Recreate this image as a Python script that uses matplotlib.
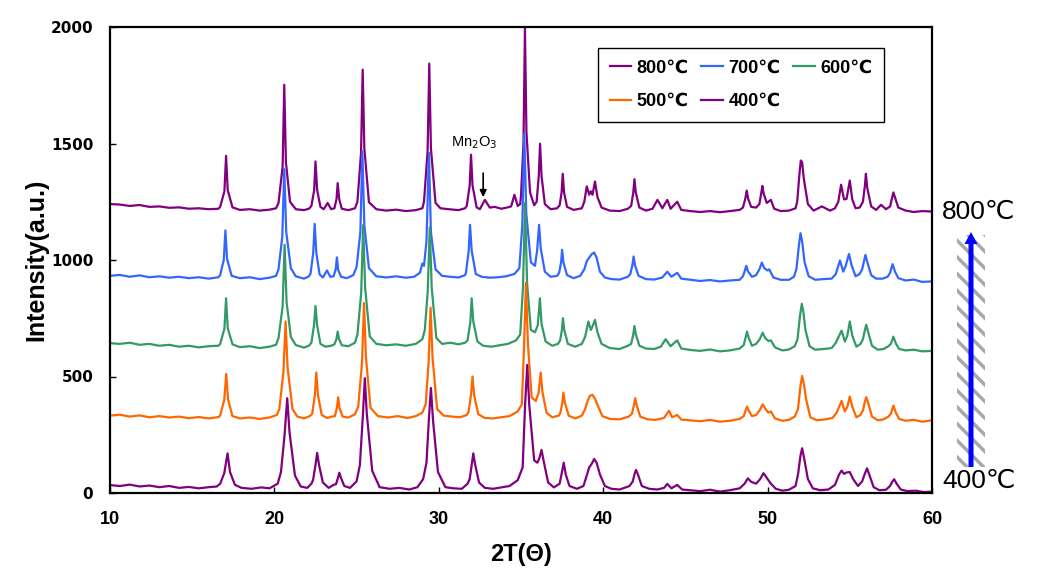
import numpy as np
import matplotlib.pyplot as plt
from matplotlib.patches import Rectangle, FancyArrow

plt.rcParams['font.family'] = ['Liberation Sans', 'DejaVu Sans']

# XRD patterns: (2theta, intensity) pairs
p800 = [(10.0, 1240), (10.6, 1238), (11.2, 1232), (11.8, 1236), (12.4, 1228), (13.0, 1230), (13.6, 1224),
        (14.2, 1226), (14.8, 1220), (15.4, 1222), (16.0, 1218), (16.6, 1220),
        (16.7, 1228), (16.96, 1295), (17.06, 1447), (17.16, 1300), (17.45, 1226),
        (17.9, 1215), (18.5, 1218), (19.1, 1212), (19.7, 1216), (20.1, 1222),
        (20.25, 1245), (20.5, 1400), (20.6, 1752), (20.7, 1420), (20.95, 1250),
        (21.3, 1218), (21.8, 1214), (22.1, 1220),
        (22.25, 1232), (22.42, 1300), (22.5, 1423), (22.6, 1300), (22.8, 1228),
        (23.0, 1218), (23.24, 1245), (23.45, 1218),
        (23.65, 1222), (23.78, 1262), (23.85, 1330), (23.94, 1262), (24.1, 1220),
        (24.5, 1214), (24.9, 1222),
        (25.05, 1250), (25.27, 1460), (25.37, 1817), (25.47, 1480), (25.75, 1248),
        (26.2, 1218), (26.8, 1212), (27.4, 1216), (28.0, 1210), (28.6, 1214), (29.0, 1222),
        (29.1, 1250), (29.32, 1470), (29.42, 1843), (29.52, 1480), (29.8, 1245),
        (30.1, 1222), (30.6, 1218), (31.2, 1214), (31.6, 1222),
        (31.7, 1232), (31.88, 1320), (31.96, 1452), (32.05, 1320), (32.3, 1226),
        (32.5, 1218), (32.8, 1258), (33.1, 1225), (33.4, 1228), (33.8, 1220), (34.2, 1226),
        (34.4, 1230), (34.6, 1280), (34.8, 1232), (34.95, 1240),
        (35.0, 1275), (35.15, 1500), (35.24, 1995), (35.33, 1550), (35.55, 1290), (35.8, 1235),
        (35.95, 1250), (36.08, 1360), (36.16, 1499), (36.25, 1360), (36.45, 1240),
        (36.8, 1218), (37.2, 1222),
        (37.35, 1235), (37.47, 1290), (37.54, 1370), (37.62, 1290), (37.8, 1228),
        (38.2, 1215), (38.7, 1222),
        (38.85, 1250), (39.0, 1316), (39.15, 1280), (39.25, 1295), (39.35, 1280), (39.5, 1337),
        (39.65, 1270), (39.9, 1225),
        (40.4, 1212), (41.0, 1210), (41.5, 1220),
        (41.7, 1232), (41.83, 1290), (41.9, 1347), (41.98, 1290), (42.2, 1225),
        (42.6, 1212), (43.0, 1220), (43.3, 1258), (43.6, 1222), (43.9, 1258), (44.1, 1220),
        (44.5, 1250), (44.75, 1215),
        (45.3, 1210), (45.9, 1206), (46.5, 1210), (47.1, 1205), (47.7, 1210), (48.3, 1215),
        (48.5, 1225), (48.65, 1265), (48.73, 1298), (48.82, 1262), (49.0, 1228), (49.3, 1225),
        (49.5, 1240), (49.62, 1290), (49.68, 1318), (49.76, 1285), (49.95, 1245), (50.2, 1258),
        (50.4, 1220), (50.8, 1210), (51.3, 1212), (51.7, 1222),
        (51.8, 1250), (51.95, 1380), (52.02, 1427), (52.1, 1420), (52.2, 1350), (52.45, 1240),
        (52.8, 1212), (53.3, 1230), (53.8, 1212), (54.1, 1222),
        (54.3, 1250), (54.47, 1323), (54.65, 1260), (54.8, 1262), (55.0, 1341), (55.15, 1260),
        (55.35, 1222), (55.6, 1225),
        (55.8, 1250), (55.92, 1320), (55.98, 1370), (56.06, 1310), (56.3, 1230),
        (56.6, 1215), (56.9, 1237), (57.2, 1218),
        (57.45, 1230), (57.58, 1270), (57.65, 1290), (57.75, 1268), (57.95, 1225),
        (58.4, 1212), (58.9, 1206), (59.4, 1210), (60.0, 1208)]

p700 = [(10.0, 932), (10.6, 936), (11.2, 928), (11.8, 934), (12.4, 926), (13.0, 930), (13.6, 924),
        (14.2, 928), (14.8, 922), (15.4, 926), (16.0, 920), (16.6, 926),
        (16.7, 935), (16.92, 1000), (17.02, 1127), (17.12, 1005), (17.4, 932),
        (17.9, 922), (18.5, 926), (19.1, 918), (19.7, 924), (20.1, 932),
        (20.25, 960), (20.48, 1100), (20.6, 1390), (20.72, 1120), (21.0, 965),
        (21.3, 930), (21.8, 920), (22.1, 930),
        (22.2, 942), (22.36, 1030), (22.45, 1155), (22.55, 1030), (22.75, 938),
        (22.95, 925), (23.2, 955), (23.4, 928),
        (23.6, 930), (23.73, 960), (23.8, 1011), (23.88, 958), (24.05, 928),
        (24.4, 922), (24.8, 935),
        (25.0, 970), (25.23, 1120), (25.35, 1466), (25.47, 1150), (25.75, 965),
        (26.2, 930), (26.8, 925), (27.4, 930), (28.0, 924), (28.5, 928), (28.85, 945),
        (29.0, 985), (29.1, 975),
        (29.25, 1080), (29.4, 1460), (29.52, 1120), (29.8, 960),
        (30.2, 932), (30.7, 928), (31.2, 925), (31.6, 935),
        (31.65, 945), (31.82, 1040), (31.9, 1151), (32.0, 1040), (32.25, 940),
        (32.6, 928), (33.1, 924), (33.6, 926), (34.1, 930), (34.6, 940), (34.9, 965),
        (35.08, 1150), (35.2, 1545), (35.32, 1200), (35.6, 990), (35.85, 975),
        (35.98, 1040), (36.1, 1151), (36.2, 1050), (36.45, 950),
        (36.8, 928), (37.2, 932),
        (37.32, 945), (37.44, 990), (37.5, 1044), (37.58, 990), (37.8, 935),
        (38.2, 922), (38.6, 932),
        (38.85, 960), (39.0, 995), (39.15, 1010), (39.3, 1025), (39.45, 1032), (39.6, 1010),
        (39.8, 950), (40.1, 925),
        (40.5, 918), (41.0, 916), (41.5, 928),
        (41.65, 940), (41.78, 980), (41.85, 1015), (41.93, 978), (42.15, 932),
        (42.6, 918), (43.1, 916), (43.6, 925), (43.9, 950), (44.15, 928), (44.5, 945), (44.75, 920),
        (45.3, 915), (45.9, 910), (46.5, 914), (47.1, 908), (47.7, 912), (48.3, 915),
        (48.5, 930), (48.62, 955), (48.7, 975), (48.8, 952), (49.05, 928), (49.3, 935),
        (49.5, 960), (49.65, 989), (49.8, 965), (50.0, 955), (50.1, 960), (50.35, 925),
        (50.8, 915), (51.3, 915), (51.6, 928),
        (51.75, 960), (51.9, 1060), (52.0, 1115), (52.1, 1080), (52.25, 990), (52.5, 930),
        (52.9, 915), (53.4, 918), (53.9, 920), (54.15, 940),
        (54.4, 998), (54.6, 950), (54.75, 975), (54.95, 1026), (55.1, 980), (55.35, 930),
        (55.6, 940),
        (55.75, 960), (55.88, 1000), (55.95, 1022), (56.05, 995), (56.3, 935),
        (56.6, 920), (57.0, 920), (57.3, 928),
        (57.45, 945), (57.6, 982), (57.75, 950), (57.95, 922),
        (58.4, 912), (58.9, 916), (59.4, 906), (60.0, 908)]

p600 = [(10.0, 643), (10.6, 640), (11.2, 645), (11.8, 636), (12.4, 640), (13.0, 632), (13.6, 636),
        (14.2, 628), (14.8, 632), (15.4, 625), (16.0, 630), (16.6, 632),
        (16.7, 640), (16.96, 705), (17.06, 836), (17.16, 708), (17.45, 638),
        (17.9, 626), (18.5, 630), (19.1, 622), (19.7, 628), (20.1, 636),
        (20.25, 665), (20.5, 800), (20.62, 1065), (20.74, 820), (21.0, 670),
        (21.3, 635), (21.8, 624), (22.1, 632),
        (22.25, 645), (22.41, 720), (22.5, 803), (22.6, 720), (22.8, 640),
        (23.1, 628), (23.45, 632),
        (23.65, 638), (23.77, 660), (23.85, 693), (23.93, 660), (24.1, 634),
        (24.5, 630), (24.9, 645),
        (25.05, 680), (25.28, 860), (25.4, 1150), (25.52, 880), (25.8, 672),
        (26.2, 640), (26.8, 634), (27.4, 638), (28.0, 632), (28.6, 640), (29.0, 660),
        (29.15, 700), (29.33, 870), (29.45, 1140), (29.57, 880), (29.85, 665),
        (30.2, 640), (30.7, 645), (31.2, 638), (31.6, 645),
        (31.75, 655), (31.92, 735), (32.0, 836), (32.1, 735), (32.35, 650),
        (32.7, 632), (33.2, 628), (33.7, 634), (34.2, 640), (34.7, 655), (34.95, 680),
        (35.12, 880), (35.25, 1245), (35.37, 900), (35.6, 700), (35.85, 690),
        (36.02, 720), (36.15, 836), (36.25, 725), (36.5, 650),
        (36.9, 632), (37.25, 640),
        (37.38, 655), (37.49, 700), (37.55, 750), (37.63, 700), (37.85, 640),
        (38.3, 628), (38.7, 640),
        (38.9, 670), (39.1, 736), (39.25, 700), (39.35, 715), (39.5, 743), (39.65, 690), (39.9, 640),
        (40.4, 622), (41.0, 618), (41.5, 632),
        (41.7, 640), (41.83, 680), (41.9, 717), (41.98, 682), (42.2, 632),
        (42.6, 620), (43.1, 618), (43.5, 628), (43.8, 660), (44.1, 630), (44.5, 655), (44.75, 620),
        (45.3, 614), (45.9, 610), (46.5, 616), (47.1, 608), (47.7, 612), (48.3, 620),
        (48.55, 635), (48.67, 670), (48.75, 693), (48.84, 668), (49.05, 632), (49.3, 640),
        (49.52, 660), (49.7, 688), (49.85, 665), (50.05, 652), (50.2, 655), (50.45, 625),
        (50.9, 612), (51.3, 616), (51.65, 630),
        (51.82, 660), (51.97, 760), (52.08, 812), (52.18, 775), (52.3, 700), (52.55, 630),
        (52.9, 615), (53.4, 618), (53.9, 622), (54.15, 645),
        (54.5, 697), (54.7, 650), (54.85, 675), (55.0, 736), (55.15, 675), (55.4, 628),
        (55.65, 640),
        (55.8, 660), (55.92, 700), (56.0, 722), (56.1, 695), (56.35, 632),
        (56.7, 615), (57.05, 618), (57.35, 630),
        (57.5, 640), (57.65, 671), (57.8, 642), (58.0, 618),
        (58.4, 612), (58.9, 615), (59.4, 608), (60.0, 610)]

p500 = [(10.0, 332), (10.6, 336), (11.2, 328), (11.8, 333), (12.4, 325), (13.0, 330), (13.6, 324),
        (14.2, 328), (14.8, 321), (15.4, 326), (16.0, 320), (16.6, 326),
        (16.7, 332), (16.95, 400), (17.07, 511), (17.18, 402), (17.45, 330),
        (17.9, 320), (18.5, 324), (19.1, 318), (19.7, 324), (20.15, 335),
        (20.3, 360), (20.55, 520), (20.68, 736), (20.8, 540), (21.1, 360),
        (21.4, 328), (21.8, 320), (22.15, 330),
        (22.3, 340), (22.46, 420), (22.55, 517), (22.65, 420), (22.88, 335),
        (23.2, 322), (23.5, 328),
        (23.68, 330), (23.8, 365), (23.88, 411), (23.96, 365), (24.15, 328),
        (24.5, 324), (24.9, 338),
        (25.1, 370), (25.33, 560), (25.45, 815), (25.57, 580), (25.85, 365),
        (26.3, 330), (26.9, 324), (27.5, 330), (28.1, 322), (28.6, 330), (29.0, 345),
        (29.2, 380), (29.38, 560), (29.5, 795), (29.62, 580), (29.9, 360),
        (30.3, 332), (30.8, 328), (31.3, 325), (31.7, 335),
        (31.8, 345), (31.96, 420), (32.05, 500), (32.15, 420), (32.4, 338),
        (32.8, 322), (33.3, 320), (33.8, 325), (34.3, 330), (34.8, 350), (35.05, 380),
        (35.18, 620), (35.3, 902), (35.42, 640), (35.65, 410), (35.9, 395),
        (36.07, 430), (36.2, 517), (36.3, 435), (36.55, 345),
        (36.9, 325), (37.3, 332),
        (37.4, 345), (37.52, 390), (37.58, 431), (37.66, 390), (37.9, 332),
        (38.3, 320), (38.7, 332),
        (38.9, 360), (39.05, 395), (39.2, 418), (39.35, 421), (39.5, 405), (39.7, 370), (39.95, 330),
        (40.4, 318), (41.0, 316), (41.55, 328),
        (41.75, 340), (41.88, 380), (41.95, 407), (42.03, 378), (42.25, 328),
        (42.7, 316), (43.2, 314), (43.7, 322), (44.0, 353), (44.2, 325), (44.5, 335), (44.75, 315),
        (45.3, 312), (45.9, 308), (46.5, 314), (47.1, 306), (47.7, 310), (48.3, 318),
        (48.55, 330), (48.68, 358), (48.75, 371), (48.84, 355), (49.05, 330), (49.3, 335),
        (49.52, 355), (49.7, 381), (49.88, 360), (50.05, 345), (50.2, 350), (50.45, 320),
        (50.9, 310), (51.3, 314), (51.65, 328),
        (51.85, 360), (52.0, 460), (52.1, 502), (52.2, 470), (52.35, 400), (52.6, 325),
        (53.0, 312), (53.5, 316), (53.95, 322), (54.2, 345),
        (54.5, 395), (54.7, 350), (54.85, 370), (55.0, 414), (55.15, 370), (55.4, 325),
        (55.65, 335),
        (55.8, 355), (55.92, 392), (56.0, 411), (56.1, 390), (56.35, 328),
        (56.7, 312), (57.05, 316), (57.35, 328),
        (57.5, 340), (57.65, 375), (57.8, 345), (58.0, 318),
        (58.4, 310), (58.9, 314), (59.4, 306), (60.0, 312)]

p400 = [(10.0, 34), (10.6, 30), (11.2, 36), (11.8, 28), (12.4, 32), (13.0, 25), (13.6, 30),
        (14.2, 22), (14.8, 26), (15.4, 20), (16.0, 25), (16.5, 28),
        (16.7, 40), (16.95, 85), (17.15, 170), (17.3, 90), (17.6, 35),
        (18.0, 22), (18.6, 18), (19.2, 24), (19.7, 20), (20.2, 40),
        (20.4, 90), (20.62, 250), (20.78, 407), (20.92, 260), (21.25, 75),
        (21.6, 28), (22.0, 22), (22.25, 40),
        (22.35, 55), (22.5, 120), (22.6, 172), (22.72, 118), (22.95, 45),
        (23.3, 22), (23.6, 35),
        (23.75, 38), (23.88, 68), (23.95, 87), (24.05, 65), (24.25, 30),
        (24.6, 22), (25.0, 50),
        (25.2, 120), (25.38, 330), (25.5, 493), (25.62, 340), (25.95, 95),
        (26.4, 25), (27.0, 18), (27.6, 22), (28.2, 15), (28.7, 25), (29.05, 60),
        (29.25, 130), (29.4, 320), (29.52, 451), (29.65, 310), (29.95, 90),
        (30.4, 25), (30.9, 20), (31.4, 18), (31.75, 40),
        (31.88, 60), (32.02, 130), (32.1, 170), (32.2, 125), (32.45, 45),
        (32.8, 22), (33.3, 18), (33.8, 24), (34.3, 30), (34.8, 55), (35.1, 110),
        (35.25, 380), (35.38, 550), (35.5, 380), (35.8, 140), (36.0, 130),
        (36.12, 150), (36.25, 185), (36.37, 140), (36.65, 45),
        (37.0, 24), (37.35, 40),
        (37.45, 75), (37.6, 130), (37.72, 80), (37.95, 30),
        (38.4, 18), (38.8, 30),
        (39.0, 75), (39.15, 110), (39.3, 125), (39.45, 146), (39.6, 130), (39.8, 80), (40.1, 30),
        (40.5, 18), (41.0, 15), (41.6, 30),
        (41.8, 50), (41.92, 85), (42.0, 99), (42.1, 82), (42.35, 30),
        (42.8, 18), (43.3, 15), (43.7, 22), (43.9, 39), (44.15, 20), (44.5, 35), (44.8, 15),
        (45.3, 12), (45.9, 8), (46.5, 14), (47.1, 6), (47.7, 12), (48.3, 20),
        (48.6, 40), (48.8, 63), (49.0, 48), (49.3, 40),
        (49.55, 60), (49.75, 85), (49.95, 65), (50.2, 40), (50.5, 18),
        (50.9, 10), (51.3, 14), (51.7, 30),
        (51.85, 80), (52.0, 160), (52.1, 192), (52.22, 150), (52.45, 60), (52.75, 20),
        (53.2, 12), (53.7, 15), (54.1, 35),
        (54.35, 80), (54.5, 96), (54.65, 82), (54.8, 88), (55.0, 90), (55.2, 60), (55.5, 30),
        (55.75, 50),
        (55.9, 80), (56.05, 106), (56.18, 80), (56.45, 25),
        (56.8, 12), (57.2, 14), (57.45, 30),
        (57.58, 48), (57.7, 59), (57.85, 40), (58.1, 15),
        (58.5, 8), (59.0, 10), (59.5, 4), (60.0, 6)]

series = [('800℃', p800, '#800080'),
          ('700℃', p700, '#3366FF'),
          ('600℃', p600, '#339966'),
          ('500℃', p500, '#FF6600'),
          ('400℃', p400, '#800080')]

xticks = [10, 20, 30, 40, 50, 60]
yticks = [0, 500, 1000, 1500, 2000]

fig = plt.figure(figsize=(10.41, 5.82), dpi=100)
ax = fig.add_axes([110 / 1041, 1 - 493 / 582, 822 / 1041, 466 / 582])

lines = {}
for name, pts, col in series:
    d = np.array(pts)
    lines[name], = ax.plot(d[:, 0], d[:, 1], color=col, lw=1.6, label=name)

ax.set_xlim(10, 60)
ax.set_ylim(0, 2000)
ax.set_xticks(xticks)
ax.set_yticks(yticks)
ax.tick_params(direction='in', length=4, width=1, top=False, right=False)
ax.tick_params(axis='x', pad=13)
ax.tick_params(axis='y', pad=12)
for lab in ax.get_yticklabels():
    lab.set_fontfamily('DejaVu Sans')
    lab.set_fontweight('bold')
    lab.set_fontsize(11)
for lab in ax.get_xticklabels():
    lab.set_fontweight('bold')
    lab.set_fontsize(13)
for sp in ax.spines.values():
    sp.set_linewidth(1.6)

ax.set_ylabel('Intensity(a.u.)', fontsize=18, fontweight='bold', labelpad=2)
ax.set_xlabel('2T(Θ)', fontsize=17, fontweight='bold', labelpad=11)

# Mn2O3 marker
ax.annotate('', xy=(32.7, 1258), xytext=(32.7, 1385),
            arrowprops=dict(arrowstyle='-|>', color='black', lw=1.2, mutation_scale=10))
ax.text(32.15, 1503, 'Mn$_2$O$_3$', fontsize=10.5, ha='center', va='center')

# legend, filled row by row
order = ['800℃', '500℃', '700℃', '400℃', '600℃']
leg = ax.legend([lines[k] for k in order], order, ncol=3, loc='upper left',
                bbox_to_anchor=(598 / 1041, 1 - 48 / 582), bbox_transform=fig.transFigure,
                borderaxespad=0, fancybox=False, framealpha=1, edgecolor='black',
                handlelength=1.2, handletextpad=0.3, columnspacing=0.7,
                borderpad=0.65, labelspacing=0.9,
                prop={'weight': 'bold', 'size': 13})
leg.get_frame().set_linewidth(1.0)

# temperature arrow at the right
over = fig.add_axes([0, 0, 1, 1])
over.set_xlim(0, 1041)
over.set_ylim(582, 0)
over.axis('off')
over.patch.set_alpha(0)
plt.rcParams['hatch.linewidth'] = 2.5
over.add_patch(Rectangle((957, 235), 28, 232, facecolor='none', edgecolor='#a8a8a8',
                         lw=0, hatch='\\\\'))
over.add_patch(FancyArrow(971, 467, 0, -235, width=5, head_width=13, head_length=12,
                          length_includes_head=True, color='#0000FF', lw=0))
over.text(979, 212, '800℃', fontsize=19, ha='center', va='center')
over.text(979, 481, '400℃', fontsize=19, ha='center', va='center')

fig.savefig('out.png', dpi=100)
